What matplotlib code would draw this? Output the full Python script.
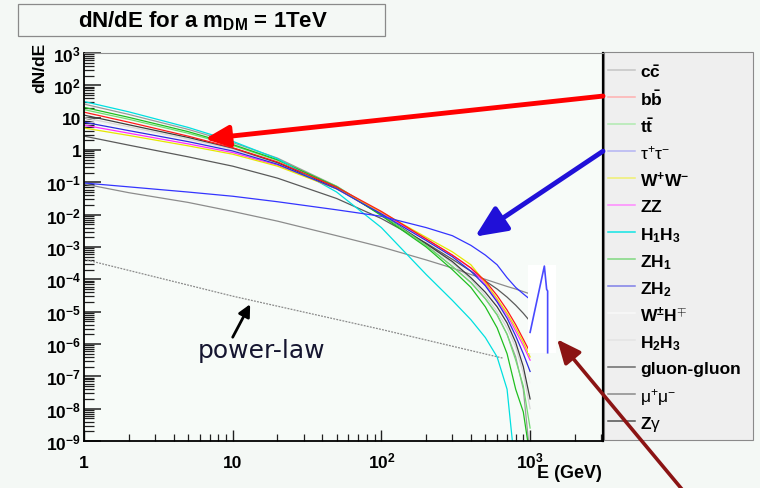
import numpy as np
import matplotlib
matplotlib.use('Agg')
import matplotlib.pyplot as plt
from matplotlib.lines import Line2D
from matplotlib.patches import Rectangle, ConnectionPatch
from matplotlib.ticker import LogLocator, NullFormatter

plt.rcParams['font.family'] = ['Liberation Sans', 'DejaVu Sans']
plt.rcParams['mathtext.fontset'] = 'custom'
plt.rcParams['mathtext.rm'] = 'Liberation Sans'
plt.rcParams['mathtext.it'] = 'Liberation Sans:italic'
plt.rcParams['mathtext.bf'] = 'Liberation Sans:bold'

# energy grid (GeV) and log10(dN/dE) for each annihilation channel
E_GEV = [1, 2, 5, 10, 20, 50, 100, 200, 300, 400, 500, 600, 700, 800, 900, 1000]
nan = np.nan
CC   = [1.42, 1.10, 0.64, 0.23, -0.25, -1.12, -1.98, -2.95, -3.60, -4.10, -4.60, -5.10, -5.70, -6.40, -7.40, -9.50]
BB   = [1.17, 0.86, 0.43, 0.07, -0.37, -1.15, -1.90, -2.75, -3.25, -3.65, -4.05, -4.50, -4.95, -5.40, -5.85, -6.26]
TT   = [1.25, 0.95, 0.52, 0.14, -0.32, -1.12, -1.98, -2.95, -3.60, -4.10, -4.60, -5.10, -5.70, -6.50, -7.30, -8.60]
TAU  = [-1.02, -1.14, -1.30, -1.43, -1.60, -1.85, -2.05, -2.40, -2.65, -2.95, -3.25, -3.55, -3.95, -4.25, -4.45, -4.62]
WW   = [0.68, 0.45, 0.13, -0.13, -0.50, -1.20, -1.92, -2.70, -3.15, -3.55, -4.10, -4.60, -5.05, -5.50, -5.95, -6.40]
ZZ   = [0.77, 0.52, 0.19, -0.08, -0.47, -1.20, -1.95, -2.75, -3.25, -3.65, -4.15, -4.65, -5.10, -5.60, -6.05, -6.50]
H1H3 = [1.50, 1.18, 0.70, 0.27, -0.27, -1.30, -2.40, -3.85, -4.65, -5.25, -5.80, -6.40, -7.40, -10.0, nan, nan]
ZH1  = [1.32, 1.01, 0.57, 0.17, -0.30, -1.14, -2.03, -3.00, -3.70, -4.25, -4.85, -5.50, -6.30, -7.40, -8.10, -9.50]
ZH2  = [0.86, 0.60, 0.26, -0.03, -0.44, -1.20, -1.98, -2.80, -3.30, -3.75, -4.20, -4.70, -5.20, -5.75, -6.30, -6.85]
WH   = [0.95, 0.68, 0.31, 0.01, -0.42, -1.20, -2.00, -2.85, -3.40, -3.85, -4.30, -4.80, -5.30, -5.85, -6.50, -7.20]
H2H3 = [1.00, 0.72, 0.34, 0.03, -0.41, -1.20, -2.00, -2.90, -3.50, -4.00, -4.50, -5.00, -5.50, -6.10, -6.90, -8.00]
GG   = [1.08, 0.78, 0.39, 0.06, -0.39, -1.18, -2.00, -2.90, -3.45, -3.95, -4.40, -4.85, -5.35, -5.95, -6.70, -7.70]
MUMU = [-1.05, -1.32, -1.62, -1.90, -2.20, -2.65, -3.00, -3.40, -3.65, -3.85, -4.00, -4.12, -4.22, -4.30, -4.38, -4.45]
ZGAM = [0.43, 0.15, -0.21, -0.50, -0.87, -1.50, -2.12, -2.88, -3.38, -3.75, -4.05, -4.30, -4.55, -4.80, -5.05, -5.30]

LABELS = [r'$\mathbf{c\bar{c}}$', r'$\mathbf{b\bar{b}}$', r'$\mathbf{t\bar{t}}$', r'$\mathrm{\tau^{+}\tau^{-}}$',
          r'$\mathbf{W^{+}W^{-}}$', r'$\mathbf{ZZ}$', r'$\mathbf{H_{1}H_{3}}$', r'$\mathbf{ZH_{1}}$',
          r'$\mathbf{ZH_{2}}$', r'$\mathbf{W^{\pm}H^{\mp}}$', r'$\mathbf{H_{2}H_{3}}$', 'gluon-gluon',
          r'$\mathrm{\mu^{+}\mu^{-}}$', r'$\mathbf{Z}\mathrm{\gamma}$']
SERIES = [CC, BB, TT, TAU, WW, ZZ, H1H3, ZH1, ZH2, WH, H2H3, GG, MUMU, ZGAM]

# reference power-law and the tau line feature beyond 1 TeV
POWERLAW_E = [1, 10, 100, 660]
POWERLAW_LOG = [-3.38, -4.52, -5.55, -6.44]
TAU_LINE_E = [1000, 1247, 1292, 1312, 1312]
TAU_LINE_LOG = [-5.64, -3.59, -4.31, -4.36, -6.27]

X_TICKS = [1, 10, 100, 1000]
X_TICK_LABELS = ['1', '10', r'$\mathbf{10^{2}}$', r'$\mathbf{10^{3}}$']
Y_TICK_EXP = list(range(-9, 4))

colors = ['#9a9a9a', '#ff1a1a', '#70dc70', '#3434ff', '#e6e600', '#ff2cff', '#00e0e0',
          '#1fbf1f', '#2c2ce0', '#f2f2f2', '#d6d6d6', '#3c3c3c', '#8c8c8c', '#5a5a5a']
legend_colors = ['#c4c4c4', '#ffb0b0', '#b0eab0', '#b4b4f4', '#f0f070', '#ff88ff', '#10e4e4',
                 '#80d880', '#8080e8', '#f9f9f9', '#e4e4e4', '#6a6a6a', '#8a8a8a', '#505050']
plot_order = [9, 10, 0, 12, 13, 11, 2, 7, 6, 5, 4, 8, 1, 3]

W, H = 760, 489
fig = plt.figure(figsize=(W / 100, H / 100), dpi=100)
fig.patch.set_facecolor('#f4f8f5')
ax = fig.add_axes([84 / W, 1 - 442 / H, (603 - 84) / W, (442 - 54) / H])
ax.set_facecolor('#f7fbf8')

E = np.array(E_GEV, dtype=float)
for n, i in enumerate(plot_order):
    ax.plot(E, 10 ** np.array(SERIES[i]), color=colors[i], lw=0.9, zorder=2 + n * 0.01)

ax.plot(POWERLAW_E, 10 ** np.array(POWERLAW_LOG), color='#8a8a8a', lw=0.9, ls=(0, (1.5, 1)), zorder=2)

# white patch behind the tau line feature
le, lv = np.array(TAU_LINE_E), 10 ** np.array(TAU_LINE_LOG)
ax.add_patch(Rectangle((le.min() * 0.97, lv.min() * 0.95), le.max() * 1.13 - le.min() * 0.97,
                       lv.max() * 1.05 - lv.min() * 0.95, facecolor='white', edgecolor='none', zorder=3))
ax.plot(le, lv, color='#4a4aff', lw=1.2, zorder=4)

ax.set_xscale('log')
ax.set_yscale('log')
ax.set_xlim(1, 10 ** (519 / 148.7))
ax.set_ylim(1e-9, 1e3)

ax.set_xticks(X_TICKS)
ax.set_xticklabels(X_TICK_LABELS)
ax.xaxis.set_minor_locator(LogLocator(base=10, subs=range(2, 10), numticks=20))
ax.xaxis.set_minor_formatter(NullFormatter())
ylabels = []
for k in Y_TICK_EXP:
    ylabels.append('1' if k == 0 else '10' if k == 1 else r'$\mathbf{10^{%d}}$' % k)
ax.set_yticks([10.0 ** k for k in Y_TICK_EXP])
ax.set_yticklabels(ylabels)
ax.yaxis.set_minor_locator(LogLocator(base=10, subs=range(2, 10), numticks=30))
ax.yaxis.set_minor_formatter(NullFormatter())

ax.tick_params(axis='both', which='both', direction='in', labelsize=12.5, color='#202020')
ax.tick_params(axis='y', which='major', length=12, width=1.1, pad=2)
ax.tick_params(axis='y', which='minor', length=7, width=0.9)
ax.tick_params(axis='x', which='major', length=8, width=1.0, pad=19)
ax.tick_params(axis='x', which='minor', length=5, width=0.9)
for lbl in ax.get_xticklabels() + ax.get_yticklabels():
    lbl.set_fontweight('bold')
for lbl in ax.get_xticklabels():
    lbl.set_va('baseline')

ax.spines['top'].set_color('#909090')
ax.spines['top'].set_linewidth(0.8)
ax.spines['right'].set_linewidth(1.6)
ax.spines['left'].set_linewidth(1.3)
ax.spines['bottom'].set_linewidth(1.3)

# legend panel to the right of the frame
fig.add_artist(Rectangle((604 / W, 1 - 441 / H), 149 / W, 388 / H, transform=fig.transFigure,
                         facecolor='#efefef', edgecolor='#8a8a8a', lw=0.8, zorder=-1))
for i, lab in enumerate(LABELS):
    yy = 1 - (71 + i * 27) / H
    fig.add_artist(Line2D([608 / W, 635 / W], [yy, yy], transform=fig.transFigure,
                          color=legend_colors[i], lw=1.1))
    weight = 'normal' if i in (3, 12) else 'bold'
    fig.text(640 / W, yy, lab, fontsize=12.5, fontweight=weight, va='center_baseline', ha='left')

# title box
fig.add_artist(Rectangle((18 / W, 1 - 37 / H), 367 / W, 32 / H, transform=fig.transFigure,
                         facecolor='none', edgecolor='#8a8a8a', lw=0.9))
fig.text(203 / W, 1 - 21 / H, r'dN/dE for a m$_{\mathbf{DM}}$ = 1TeV', fontsize=16,
         fontweight='bold', ha='center', va='center')

fig.text(40 / W, 1 - 68 / H, 'dN/dE', rotation=90, fontsize=12.5, fontweight='bold',
         ha='center', va='center')
fig.text(537 / W, 1 - 478 / H, 'E (GeV)', fontsize=13, fontweight='bold', ha='left', va='baseline')

# annotations
ax.annotate('', xy=(6.5, 2.2), xytext=(1.0, 0.889), textcoords='axes fraction',
            arrowprops=dict(arrowstyle='-|>,head_length=0.9,head_width=0.4', color='#ff0000',
                            lw=3.5, mutation_scale=16, shrinkA=0, shrinkB=0),
            annotation_clip=False, zorder=6)
ax.annotate('', xy=(427, 2.1e-3), xytext=(1.0, 0.747), textcoords='axes fraction',
            arrowprops=dict(arrowstyle='-|>,head_length=1.0,head_width=0.45', color='#2010d8',
                            lw=3.5, mutation_scale=19, shrinkA=0, shrinkB=0),
            annotation_clip=False, zorder=6)
ax.annotate('', xy=(13.1, 10 ** -4.77), xytext=(10, 10 ** -5.79),
            arrowprops=dict(arrowstyle='-|>,head_length=0.6,head_width=0.3', color='black',
                            lw=2, mutation_scale=12, shrinkA=0, shrinkB=0), zorder=6)
ax.text(5.8, 10 ** -6.2, 'power-law', family='DejaVu Sans', fontsize=18, color='#151530',
        va='center', ha='left', zorder=6)

con = ConnectionPatch(xyA=(685 / W, -0.01), coordsA='figure fraction', xyB=(1520, 1.4e-6),
                      coordsB=ax.transData, arrowstyle='-|>,head_length=0.9,head_width=0.4',
                      color='#8b1414', lw=2.6, mutation_scale=16, shrinkA=0, shrinkB=0, zorder=8)
con.set_annotation_clip(False)
fig.add_artist(con)

fig.savefig('out.png', dpi=100, facecolor=fig.get_facecolor())
